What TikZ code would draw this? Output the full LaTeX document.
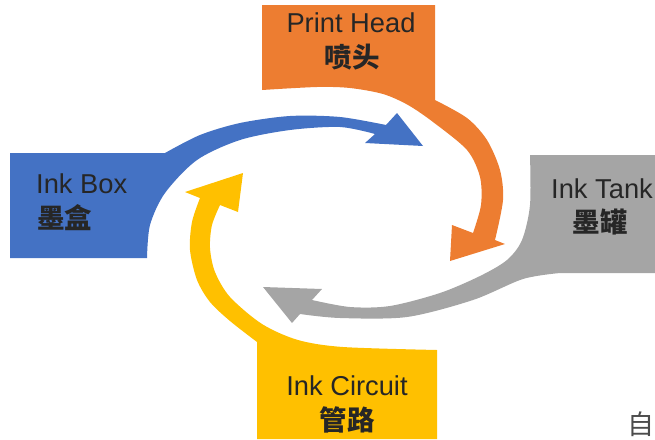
\documentclass[tikz,border=0pt]{standalone}
\usepackage{fontspec}
\setmainfont{Liberation Sans}
\newfontfamily\cjk{Noto Sans CJK SC}
\definecolor{cblue}{HTML}{4472C4}
\definecolor{corange}{HTML}{ED7D31}
\definecolor{cgray}{HTML}{A5A5A5}
\definecolor{cyellow}{HTML}{FFC000}
\definecolor{ctext}{HTML}{262626}
\begin{document}
\begin{tikzpicture}[x=1pt,y=-1pt,
  lbl/.style={inner sep=0pt, text=ctext, font=\fontsize{27.3}{30}\selectfont},
  cj/.style={inner sep=0pt, text=ctext, font=\cjk\bfseries\fontsize{27.5}{30}\selectfont},
  zi/.style={inner sep=0pt, text=black!70, font=\cjk\fontsize{27}{30}\selectfont}]
\useasboundingbox (0,0) rectangle (655,439);
% blue: Ink Box
\fill[cblue] (10,153) -- plot[smooth] coordinates {(165,153) (200,135) (240,123) (290,116) (340,117) (386,125)}
  -- (397,113) -- (423,146) -- (365,143)
  -- plot[smooth] coordinates {(375,134) (340,127) (290,130) (240,140) (197,160) (165,193) (150,225) (147,258)}
  -- (10,258) -- cycle;
% orange: Print Head
\fill[corange] (262,5) -- (435,5) -- plot[smooth] coordinates {(435,100) (467,118) (487,140) (500,170) (503,200) (495,240)}
  -- (505,244) -- (450,261) -- (452,225)
  -- plot[smooth] coordinates {(473,233) (481,205) (480,177) (467,150) (433,122) (408,105) (383,94) (350,88) (317,87) (262,90)}
  -- cycle;
% gray: Ink Tank
\fill[cgray] (530,155) -- (655,155) -- (655,273)
  -- plot[smooth] coordinates {(560,273) (523,279) (473,300) (407,317) (340,318) (300,314)}
  -- (292,323) -- (263,287) -- (322,289)
  -- plot[smooth] coordinates {(312,300) (350,307) (390,306) (440,293) (480,276) (507,260) (522,240) (530,205) (530,155)}
  -- cycle;
% yellow: Ink Circuit
\fill[cyellow] (257,439) -- plot[smooth] coordinates {(257,342) (230,321) (210,302) (197,280) (190,250) (192,222) (200,198)}
  -- (185,192) -- (243,173) -- (238,212)
  -- plot[smooth] coordinates {(220,205) (212,225) (210,248) (215,272) (230,297) (262,324) (298,340) (343,347) (437,350)}
  -- (437,439) -- cycle;
% texts
\node[lbl] (ph) at (351,23) {Print Head};
\node[cj] (phz) at (352,57) {喷头};
\node[lbl, anchor=west] (ib) at (36,184) {Ink Box};
\node[cj, anchor=west] (ibz) at (37,218) {墨盒};
\node[lbl] (it) at (602,189) {Ink Tank};
\node[cj] (itz) at (600,222) {墨罐};
\node[lbl] (ic) at (347,386) {Ink Circuit};
\node[cj] (icz) at (347,420) {管路};
\node[zi] (z) at (641,424) {自};
\end{tikzpicture}
\end{document}
